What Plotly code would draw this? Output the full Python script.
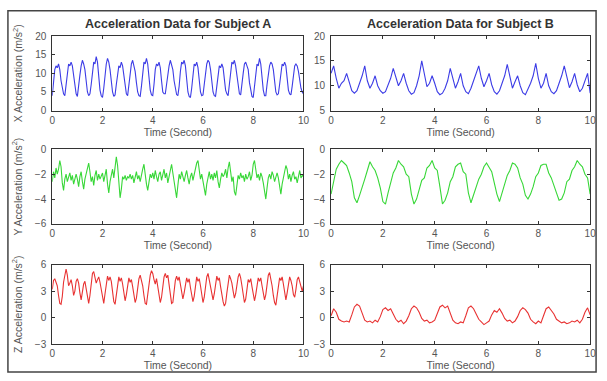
import numpy as np
import plotly.graph_objects as go

# ---------------- data ----------------
# Subject A, sampled every 0.05 s
a_x = [4, 7.5, 11, 12, 11.5, 12.5, 11, 8, 5.5, 4.5,
       4, 6.5, 10, 12.5, 12, 13, 12, 9, 6, 4.5,
       3.8, 6, 9.5, 12, 13.5, 12.5, 11, 8, 5, 4,
       4.5, 7, 10.5, 13, 12.5, 14.5, 13, 9, 5.5, 4,
       3.5, 6, 10, 12.5, 14, 13, 11, 7.5, 5, 3.8,
       4.2, 7, 10.5, 12, 11.5, 13, 12, 9, 6, 4.5,
       4, 6.5, 10, 12.5, 13.5, 12, 10.5, 7.5, 5, 4,
       3.8, 6.5, 10.5, 13, 12.5, 14, 12.5, 9, 5.5, 4.2,
       4, 7, 11, 12.5, 12, 13, 11.5, 8, 5, 4.5,
       4.5, 7, 10, 12, 13.5, 12.5, 11, 8, 5.5, 4.3,
       4, 6.5, 10.5, 13, 12.5, 13.5, 12, 8.5, 5, 3.8,
       3.5, 6, 10, 12.5, 12, 13, 11.5, 8, 5, 4,
       4.2, 7, 10.5, 12.5, 13.5, 13, 11, 7.5, 5, 4,
       3.8, 6.5, 10, 12, 11.5, 12.5, 11.5, 8.5, 5.5, 4.5,
       4, 7, 11, 13, 12.5, 13.5, 12, 9, 6, 4.5,
       4.2, 6.5, 10, 12.5, 13, 12, 11, 7.5, 5, 3.8,
       3.5, 6, 10, 12.5, 12, 14, 12.5, 8.5, 5.5, 4,
       4, 7, 10.5, 12, 13, 12.5, 11, 8, 5, 4.2,
       4.5, 7, 10.5, 12.5, 12, 13, 12, 8.5, 5.5, 4.5,
       4.2, 6.5, 10, 12, 12.5, 12, 10.5, 8, 6, 5,
       4.5]

a_y = [-2.6, -1.8, -2.3, -1.5, -2.0, -1.6, -0.9, -1.4, -2.7, -3.3, -2.4, -2.0, -2.6, -2.2, -1.9, -2.5, -2.1, -2.8, -2.3, -2.0,
       -2.4, -3.0, -2.2, -1.8, -2.6, -3.2, -2.4, -1.9, -1.6, -1.1, -1.8, -2.6, -2.2, -2.9, -2.1, -1.7, -2.5, -2.0, -2.4, -2.2,
       -1.9, -2.6, -2.2, -1.6, -2.8, -3.5, -2.6, -2.0, -1.6, -2.3, -1.4, -0.6, -1.3, -2.5, -3.9, -3.2, -2.2, -2.4, -2.1, -2.5,
       -2.2, -2.3, -2.0, -2.4, -2.1, -2.7, -2.2, -1.8, -2.4, -2.1, -2.6, -2.0, -1.6, -1.2, -2.1, -2.8, -3.3, -2.5, -2.0, -2.3,
       -1.9, -2.4, -1.7, -2.2, -2.6, -2.0, -1.8, -2.5, -2.1, -1.6, -2.3, -1.9, -2.7, -2.2, -1.5, -1.2, -1.9, -2.5, -3.1, -3.9,
       -2.9, -2.0, -2.4, -1.8, -2.2, -2.6, -2.1, -1.7, -2.3, -2.8, -2.2, -1.9, -2.5, -2.0, -1.6, -1.1, -0.9, -1.5, -2.4, -2.0,
       -2.6, -3.0, -3.7, -2.8, -2.1, -1.8, -2.4, -2.0, -2.5, -1.9, -2.3, -1.7, -2.6, -3.1, -2.4, -1.9, -2.2, -2.0, -1.6, -2.3,
       -1.5, -1.0, -1.8, -2.6, -2.2, -3.4, -3.7, -2.7, -2.1, -2.4, -1.9, -2.3, -2.1, -2.6, -2.0, -2.4, -2.2, -1.8, -2.5, -2.1,
       -1.2, -0.9, -1.5, -2.3, -2.0, -2.5, -1.9, -2.2, -2.7, -3.4, -4.0, -3.1, -2.3, -2.0, -2.4, -1.8, -2.1, -2.6, -2.2, -1.9,
       -2.3, -2.9, -3.6, -2.8, -2.2, -1.7, -1.3, -1.6, -2.4, -2.0, -2.6, -2.1, -1.8, -2.4, -2.2, -2.7, -2.0, -1.7, -2.3, -2.1,
       -2.2]

a_z = [3.2, 4.2, 4.4, 4.0, 3.6, 2.5, 1.6, 1.5, 2.4, 4.0, 5.0, 5.5, 4.8, 3.6, 3.9, 4.3, 3.6, 2.5, 3.0, 4.1,
       4.4, 3.9, 2.8, 2.0, 2.9, 3.8, 4.1, 3.2, 2.1, 1.6, 2.5, 3.9, 5.0, 5.2, 4.4, 3.9, 4.3, 4.6, 4.0, 3.0,
       2.0, 1.6, 2.7, 4.0, 4.7, 4.2, 4.6, 4.1, 2.9, 1.8, 1.5, 2.6, 4.0, 4.6, 4.1, 4.5, 3.8, 2.6, 1.9, 2.6,
       3.8, 4.5, 4.0, 4.3, 3.5, 2.4, 1.7, 2.2, 3.4, 4.4, 4.8, 4.2, 3.6, 2.5, 1.6, 1.5, 2.8, 4.0, 4.8, 5.3,
       5.0, 4.3, 3.8, 4.4, 3.6, 2.4, 1.7, 2.3, 3.6, 4.6, 5.0, 4.5, 4.8, 3.9, 2.6, 1.6, 1.7, 3.0, 4.2, 4.7,
       4.2, 4.6, 3.7, 2.6, 2.1, 2.8, 3.9, 4.5, 4.0, 4.4, 3.4, 2.3, 1.8, 2.4, 3.8, 4.6, 4.1, 4.4, 3.6, 2.4,
       1.7, 2.3, 3.6, 4.6, 5.0, 4.3, 3.7, 2.6, 2.0, 2.7, 3.9, 4.7, 4.2, 4.5, 3.5, 2.4, 1.8, 1.3, 1.6, 2.8,
       4.0, 4.8, 4.4, 3.9, 3.0, 2.2, 2.7, 3.8, 4.6, 5.0, 4.5, 3.6, 2.4, 1.7, 2.1, 3.3, 4.3, 4.0, 4.4, 3.5,
       2.5, 1.9, 2.6, 3.8, 4.5, 4.1, 4.5, 3.6, 2.6, 2.0, 2.6, 3.9, 4.8, 5.1, 4.5, 3.6, 2.5, 1.7, 1.4, 2.4,
       3.7, 4.5, 4.2, 4.6, 3.8, 2.6, 2.0, 2.8, 4.0, 4.6, 4.2, 3.6, 2.6, 2.3, 3.2, 4.3, 4.6, 4.0, 3.4, 3.0,
       3.6]

# Subject B, sampled every 0.1 s
b_x = [12.5, 14, 11.5, 9.5, 10.5, 11, 12.5, 10.5, 9, 8.5,
       9, 10.5, 12, 14, 11, 9.5, 10.5, 12, 10, 9,
       8.5, 8.8, 10, 11.5, 13.5, 11.5, 10, 11, 12.5, 10.5,
       9, 8.3, 8.6, 10, 12, 15, 12, 9.8, 10.5, 12,
       10.5, 8.8, 8.2, 8.5, 9.5, 11, 13.5, 11.5, 9.5, 10.8,
       12.5, 10, 8.8, 8.4, 9.5, 11, 12.5, 14, 11.5, 9.8,
       11, 12.5, 10.2, 8.8, 8.3, 9, 10.5, 12, 14.3, 11.5,
       9.5, 10.8, 12, 10, 8.6, 8.2, 9.2, 10.5, 12, 14.5,
       11.5, 9.5, 10.5, 12.5, 10, 8.8, 8.4, 9, 10.5, 12,
       14, 11.5, 9.6, 10.8, 12.5, 10.2, 8.8, 9.5, 11, 12.5,
       8.5]

b_y = [-3.6, -2.5, -1.6, -1.2, -0.9, -1.1, -1.3, -1.9, -2.6, -3.9,
       -4.3, -3.7, -3.1, -2.4, -1.7, -1.0, -1.4, -1.7, -2.3, -3.1,
       -4.2, -4.4, -3.5, -2.6, -1.9, -1.5, -0.9, -1.2, -1.4, -2.0,
       -2.2, -3.6, -4.4, -4.0, -3.3, -2.5, -2.3, -1.5, -1.3, -0.9,
       -1.5, -1.7, -3.0, -4.4, -4.1, -3.5, -2.6, -2.2, -1.4, -1.2,
       -1.1, -1.8, -2.0, -3.5, -4.3, -3.7, -3.1, -2.4, -2.0, -1.4,
       -1.1, -1.5, -1.8, -2.7, -3.6, -4.2, -3.5, -3.0, -2.1, -1.7,
       -1.1, -1.2, -1.5, -2.3, -2.8, -3.7, -4.0, -3.6, -3.0, -2.2,
       -1.9, -1.3, -1.2, -1.2, -1.9, -2.3, -3.0, -3.5, -4.1, -4.0,
       -3.5, -2.6, -2.4, -1.7, -1.4, -0.9, -1.2, -1.4, -2.0, -2.3,
       -3.6]

b_z = [0.2, 1.0, 0.6, -0.2, -0.4, -0.5, -0.4, -0.5, 0.3, 1.2,
       1.5, 1.3, 0.5, -0.3, -0.5, -0.4, -0.6, -0.3, -0.5, 0.1,
       0.9, 1.1, 0.8, 1.0, 0.4, -0.2, -0.5, -0.3, -0.7, -0.4,
       0.2, 1.0, 1.3, 1.1, 0.6, -0.1, -0.4, -0.3, -0.6, -0.5,
       -0.3, 0.4, 1.2, 1.4, 1.1, 1.3, 0.5, -0.3, -0.6, -0.7,
       -0.5, -0.6, 0.2, 1.1, 1.3, 1.0, 0.4, -0.2, -0.5, -0.8,
       -0.6, -0.4, 0.3, 0.8, 0.6, 1.0, 0.5, -0.1, -0.4, -0.3,
       -0.6, -0.4, 0.1, 0.8, 1.1, 0.9, 0.5, -0.2, -0.5, -0.7,
       -0.4, -0.6, 0.2, 1.0, 1.2, 0.8, 0.4, -0.2, -0.4, -0.6,
       -0.5, -0.7, -0.6, -0.4, -0.5, -0.3, -0.6, -0.2, 0.6, 1.1,
       0.3]

titles = ["Acceleration Data for Subject A", "Acceleration Data for Subject B"]
y_titles = ["X Acceleration (m/s<sup>2</sup>)", "Y Acceleration (m/s<sup>2</sup>)",
            "Z Acceleration (m/s<sup>2</sup>)"]
x_title = "Time (Second)"
x_ticks = [0, 2, 4, 6, 8, 10]
y_ranges = [[[0, 20], [5, 20]], [[-6, 0], [-6, 0]], [[-3, 6], [-3, 6]]]
y_ticks = [[[0, 5, 10, 15, 20], [5, 10, 15, 20]],
           [[-6, -4, -2, 0], [-6, -4, -2, 0]],
           [[-3, 0, 3, 6], [-3, 0, 3, 6]]]

series = [[a_x, b_x], [a_y, b_y], [a_z, b_z]]
colors = ["rgb(60,60,230)", "rgb(55,215,55)", "rgb(232,50,50)"]

# ---------------- layout geometry (pixels) ----------------
W, H = 607, 381
col_px = [(50, 305), (333, 596)]
row_px = [(31, 108), (148, 225), (267, 349)]

fig = go.Figure()
font_fam = "Liberation Sans, Arial, sans-serif"
tick_font = dict(family=font_fam, size=10, color="#555")
title_font = dict(family=font_fam, size=10.5, color="#555")

k = 0
for r in range(3):
    for c in range(2):
        k += 1
        xa = "x" if k == 1 else f"x{k}"
        ya = "y" if k == 1 else f"y{k}"
        vals = series[r][c]
        t = np.linspace(0, 10, len(vals))
        fig.add_trace(go.Scatter(x=t, y=vals, mode="lines",
                                 line=dict(color=colors[r], width=1.1),
                                 xaxis=xa, yaxis=ya, showlegend=False,
                                 hoverinfo="skip"))
        x0, x1 = col_px[c]
        y0, y1 = row_px[r]
        common = dict(showline=True, linecolor="#333", linewidth=1, mirror="ticks",
                      ticks="inside", ticklen=3, tickcolor="#333", showgrid=False,
                      zeroline=False, tickfont=tick_font)
        xkey = "xaxis" if k == 1 else f"xaxis{k}"
        ykey = "yaxis" if k == 1 else f"yaxis{k}"
        yaxis = dict(domain=[1 - y1 / H, 1 - y0 / H], anchor=xa,
                     range=y_ranges[r][c], tickvals=y_ticks[r][c],
                     ticklabelstandoff=3, **common)
        if c == 0:
            yaxis["title"] = dict(text=y_titles[r], font=title_font, standoff=10)
        fig.update_layout({
            xkey: dict(domain=[x0 / W, x1 / W], anchor=ya, range=[0, 10],
                       tickvals=x_ticks, ticklabelstandoff=0,
                       title=dict(text=x_title, font=title_font, standoff=0),
                       **common),
            ykey: yaxis,
        })

annotations = []
for c in range(2):
    x0, x1 = col_px[c]
    annotations.append(dict(text="<b>" + titles[c] + "</b>", x=(x0 + x1) / 2 / W,
                            y=1 - 19 / H, xref="paper", yref="paper",
                            showarrow=False, xanchor="center", yanchor="middle",
                            font=dict(family=font_fam, size=12.5, color="#333")))

fig.update_layout(
    width=W, height=H,
    margin=dict(l=0, r=0, t=0, b=0),
    paper_bgcolor="white", plot_bgcolor="white",
    annotations=annotations,
    shapes=[dict(type="rect", xref="paper", yref="paper",
                 x0=5 / W, x1=602 / W, y0=1 - 378 / H, y1=1 - 5 / H,
                 line=dict(color="#444", width=1.5))],
)

fig.write_html("out.html", config={"displayModeBar": False},
               post_script="document.body.style.margin='0';"
                           "document.body.style.overflow='hidden';")
